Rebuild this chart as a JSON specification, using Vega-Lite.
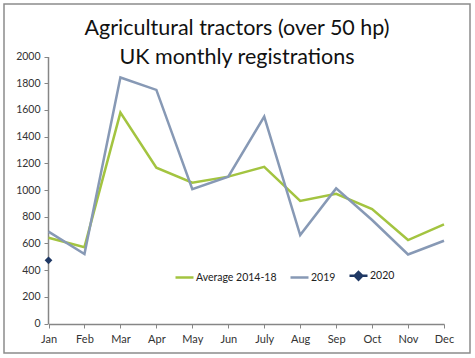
{
  "$schema": "https://vega.github.io/schema/vega-lite/v6.json",
  "autosize": {"type": "none"},
  "padding": {"left": 4, "top": 4, "right": 5, "bottom": 5},
  "width": 466,
  "height": 349,
  "background": "white",
  "config": {
    "font": "Lato",
    "view": {"stroke": "#8c8c8c", "strokeWidth": 1.5},
    "axis": {"grid": false, "domainColor": "#868686", "tickColor": "#868686", "labelColor": "#333333", "labelFont": "Lato", "labelFontSize": 11, "tickSize": 4, "title": null}
  },
  "title": {
    "text": ["Agricultural tractors (over 50 hp)", "UK monthly registrations"],
    "anchor": "middle",
    "orient": "top",
    "baseline": "alphabetic",
    "offset": -81,
    "lineHeight": 29,
    "fontSize": 21.5,
    "fontWeight": "normal",
    "font": "Lato",
    "color": "#111111"
  },
  "data": {
    "values": [
      {"month": "Jan", "series": "Average 2014-18", "value": 642},
      {"month": "Feb", "series": "Average 2014-18", "value": 572},
      {"month": "Mar", "series": "Average 2014-18", "value": 1580},
      {"month": "Apr", "series": "Average 2014-18", "value": 1167},
      {"month": "May", "series": "Average 2014-18", "value": 1055},
      {"month": "Jun", "series": "Average 2014-18", "value": 1100},
      {"month": "July", "series": "Average 2014-18", "value": 1173},
      {"month": "Aug", "series": "Average 2014-18", "value": 918},
      {"month": "Sep", "series": "Average 2014-18", "value": 972},
      {"month": "Oct", "series": "Average 2014-18", "value": 857},
      {"month": "Nov", "series": "Average 2014-18", "value": 625},
      {"month": "Dec", "series": "Average 2014-18", "value": 742},
      {"month": "Jan", "series": "2019", "value": 688},
      {"month": "Feb", "series": "2019", "value": 521},
      {"month": "Mar", "series": "2019", "value": 1843},
      {"month": "Apr", "series": "2019", "value": 1750},
      {"month": "May", "series": "2019", "value": 1007},
      {"month": "Jun", "series": "2019", "value": 1100},
      {"month": "July", "series": "2019", "value": 1550},
      {"month": "Aug", "series": "2019", "value": 662},
      {"month": "Sep", "series": "2019", "value": 1012},
      {"month": "Oct", "series": "2019", "value": 775},
      {"month": "Nov", "series": "2019", "value": 517},
      {"month": "Dec", "series": "2019", "value": 620},
      {"month": "Jan", "series": "2020", "value": 473}
    ]
  },
  "encoding": {
    "x": {
      "field": "month", "type": "ordinal",
      "sort": ["Jan", "Feb", "Mar", "Apr", "May", "Jun", "July", "Aug", "Sep", "Oct", "Nov", "Dec"],
      "scale": {"type": "point", "padding": 0, "range": [44.5, 440]},
      "axis": {"offset": -29, "labelAngle": 0, "labelPadding": 5, "domainWidth": 1.5}
    },
    "y": {
      "field": "value", "type": "quantitative",
      "scale": {"domain": [0, 2000], "nice": false, "range": [319.5, 52.5]},
      "axis": {"offset": -44, "values": [0, 200, 400, 600, 800, 1000, 1200, 1400, 1600, 1800, 2000], "format": "d", "labelPadding": 4, "labelFontSize": 10.5, "domainWidth": 1.5}
    },
    "color": {
      "field": "series", "type": "nominal",
      "scale": {"domain": ["Average 2014-18", "2019", "2020"], "range": ["#a3c440", "#8799b5", "#1f3864"]},
      "legend": {
        "title": null,
        "orient": "none",
        "direction": "horizontal",
        "legendX": 170,
        "legendY": 261,
        "symbolType": "stroke",
        "symbolSize": 324,
        "symbolStrokeWidth": 2.5,
        "labelFontSize": 10.5,
        "labelFont": "Lato",
        "labelColor": "#222222",
        "labelOffset": 1,
        "columnPadding": 8,
        "encode": {
          "symbols": {
            "update": {
              "shape": {"signal": "datum.value === '2020' ? 'M-1,0H1M0,-0.42L0.42,0L0,0.42L-0.42,0Z' : 'stroke'"},
              "fill": {"signal": "datum.value === '2020' ? '#1f3864' : 'transparent'"},
              "stroke": {"signal": "datum.value === '2020' ? '#1f3864' : datum.value === '2019' ? '#8799b5' : '#a3c440'"},
              "strokeWidth": {"value": 2.5},
              "opacity": {"value": 1}
            }
          }
        }
      }
    }
  },
  "layer": [
    {
      "transform": [{"filter": "datum.series !== '2020'"}],
      "mark": {"type": "line", "strokeWidth": 2.5}
    },
    {
      "transform": [{"filter": "datum.series === '2020'"}],
      "mark": {"type": "point", "shape": "diamond", "filled": true, "size": 60, "opacity": 1}
    }
  ]
}
